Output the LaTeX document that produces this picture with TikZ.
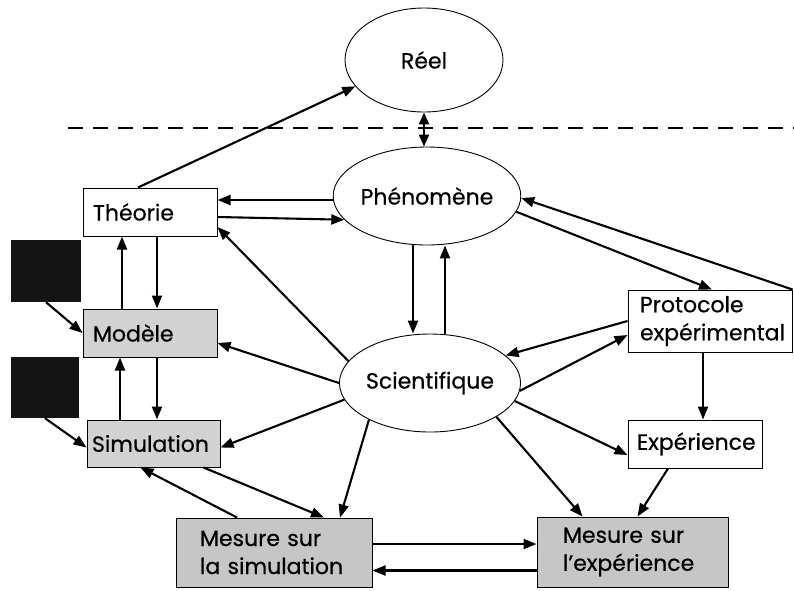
\documentclass[tikz,border=0pt]{standalone}
\usepackage{fontspec}
\setmainfont{Poppins}[FakeBold=0.6]
\usetikzlibrary{shapes.geometric,arrows.meta,calc}
\begin{document}
\begin{tikzpicture}[x=1pt,y=-1pt,
  font=\fontsize{22}{28}\selectfont,
  arr/.style={line width=2.1pt,-{Triangle[length=13pt,width=10pt]}},
  darr/.style={line width=2.1pt,{Triangle[length=12pt,width=10pt]}-{Triangle[length=12pt,width=10pt]}},
  oval/.style={ellipse,draw,line width=0.9pt,inner sep=0pt,fill=white},
  plainbox/.style={rectangle,draw,line width=1pt,inner ysep=0pt,fill=white,align=left},
  greybox/.style={plainbox,fill=gray!35},
  mesbox/.style={plainbox,fill=gray!45},
  blackbox/.style={rectangle,fill=black!92,inner sep=0pt},
  border/.style={line width=2.4pt,dash pattern=on 15pt off 10pt}
]
\useasboundingbox (0,0) rectangle (794,590);
\fill[white] (0,0) rectangle (794,590);

% border between the real world and its representations
\coordinate (bl) at (68,128);
\coordinate (br) at (794,128);
\draw[border] (bl) -- (br);

% ovals
\node[oval,minimum width=158pt,minimum height=104pt] (reel) at (424,60) {Réel};
\node[oval,minimum width=164pt,minimum height=98pt] (phen) at (427,196) {Phénomène};
\node[oval,minimum width=161pt,minimum height=98pt] (sci) at (430,383) {Scientifique};

% left column
\node[plainbox,minimum height=48pt,inner xsep=10pt,text width=114pt] (theo) at (150,212) {Théorie};
\node[greybox,minimum height=48pt,inner xsep=10pt,text width=114pt] (mod) at (150,333) {Modèle};
\node[greybox,minimum height=47pt,inner xsep=5pt,text width=123pt] (sim) at (153.5,443.5) {Simulation};
\node[blackbox,minimum width=70pt,minimum height=62pt] (sqa) at (46,271) {};
\node[blackbox,minimum width=68pt,minimum height=61pt] (sqb) at (45,387.5) {};

% right column
\node[plainbox,minimum height=62pt,inner xsep=12pt,text width=140pt] (prot) at (710,321) {Protocole\\expérimental};
\node[plainbox,minimum height=48pt,inner xsep=9pt,text width=116pt] (expe) at (695,444) {Expérience};

% measurements
\node[mesbox,minimum height=69pt,inner xsep=24pt,text width=148pt] (msim) at (274,552.5) {\mbox{Mesure sur}\\\mbox{la simulation}};
\node[mesbox,minimum height=70pt,inner xsep=26pt,text width=139pt] (mexp) at (632.5,552) {\mbox{Mesure sur}\\\mbox{l'expérience}};

% connectors
\draw[arr] ([xshift=-12pt]theo.north) -- (reel.201);
\draw[darr] (reel.south) -- (reel.south |- phen.north);
\draw[arr] ([yshift=-4pt]phen.west) -- ([yshift=-4pt]phen.west -| theo.east);
\draw[arr] ([yshift=-5pt]theo.east) -- (phen.196);
\draw[arr] (sci.165) -- ([yshift=-15pt]theo.east);
\draw[arr] ([xshift=7pt]theo.south) -- ([xshift=7pt]mod.north);
\draw[arr] ([xshift=-28pt]mod.north) -- ([xshift=-28pt]theo.south);
\draw[arr] ([xshift=7pt]mod.south) -- ([xshift=7pt]mod.south |- sim.north);
\draw[arr] ([xshift=-30pt]mod.south |- sim.north) -- ([xshift=-30pt]mod.south);
\draw[arr] (sqa.south) -- (mod.west);
\draw[arr] (sqb.south) -- ([yshift=-4pt]sim.west);
\draw[arr] (sci.west) -- ([yshift=-10pt]mod.east);
\draw[arr] (sci.191) -- ([yshift=-4pt]sim.east);
\draw[arr] ([xshift=50pt]sim.south) -- ([xshift=50pt]msim.north);
\draw[arr] ([xshift=-37pt]msim.north) -- ([xshift=-13pt]sim.south);
\draw[arr] (sci.211) -- ([xshift=66pt]msim.north);
\draw[arr] ([xshift=-14pt]phen.south) -- ([xshift=-14pt]phen.south |- sci.north);
\draw[arr] ([xshift=15pt]sci.north) -- ([xshift=15pt]sci.north |- phen.south);
\draw[arr] (phen.350) -- ([xshift=2pt]prot.north);
\draw[arr] (prot.north east) -- ([yshift=-2pt]phen.east);
\draw[arr] (prot.west) -- (sci.20);
\draw[arr] (sci.355) -- ([yshift=-14pt]prot.west);
\draw[arr] (sci.348) -- ([yshift=-11pt]expe.west);
\draw[arr] ([xshift=-7pt]prot.south) -- ([xshift=-7pt]prot.south |- expe.north);
\draw[arr] ([xshift=-27pt]expe.south) -- ([xshift=5pt]mexp.north);
\draw[arr] (sci.333) -- ([xshift=-50pt]mexp.north);
\draw[arr] ([yshift=8.5pt]msim.east) -- ([yshift=8.5pt]msim.east -| mexp.west);
\draw[arr] ([yshift=-18.5pt]mexp.west) -- ([yshift=-18.5pt]mexp.west -| msim.east);
\end{tikzpicture}
\end{document}
